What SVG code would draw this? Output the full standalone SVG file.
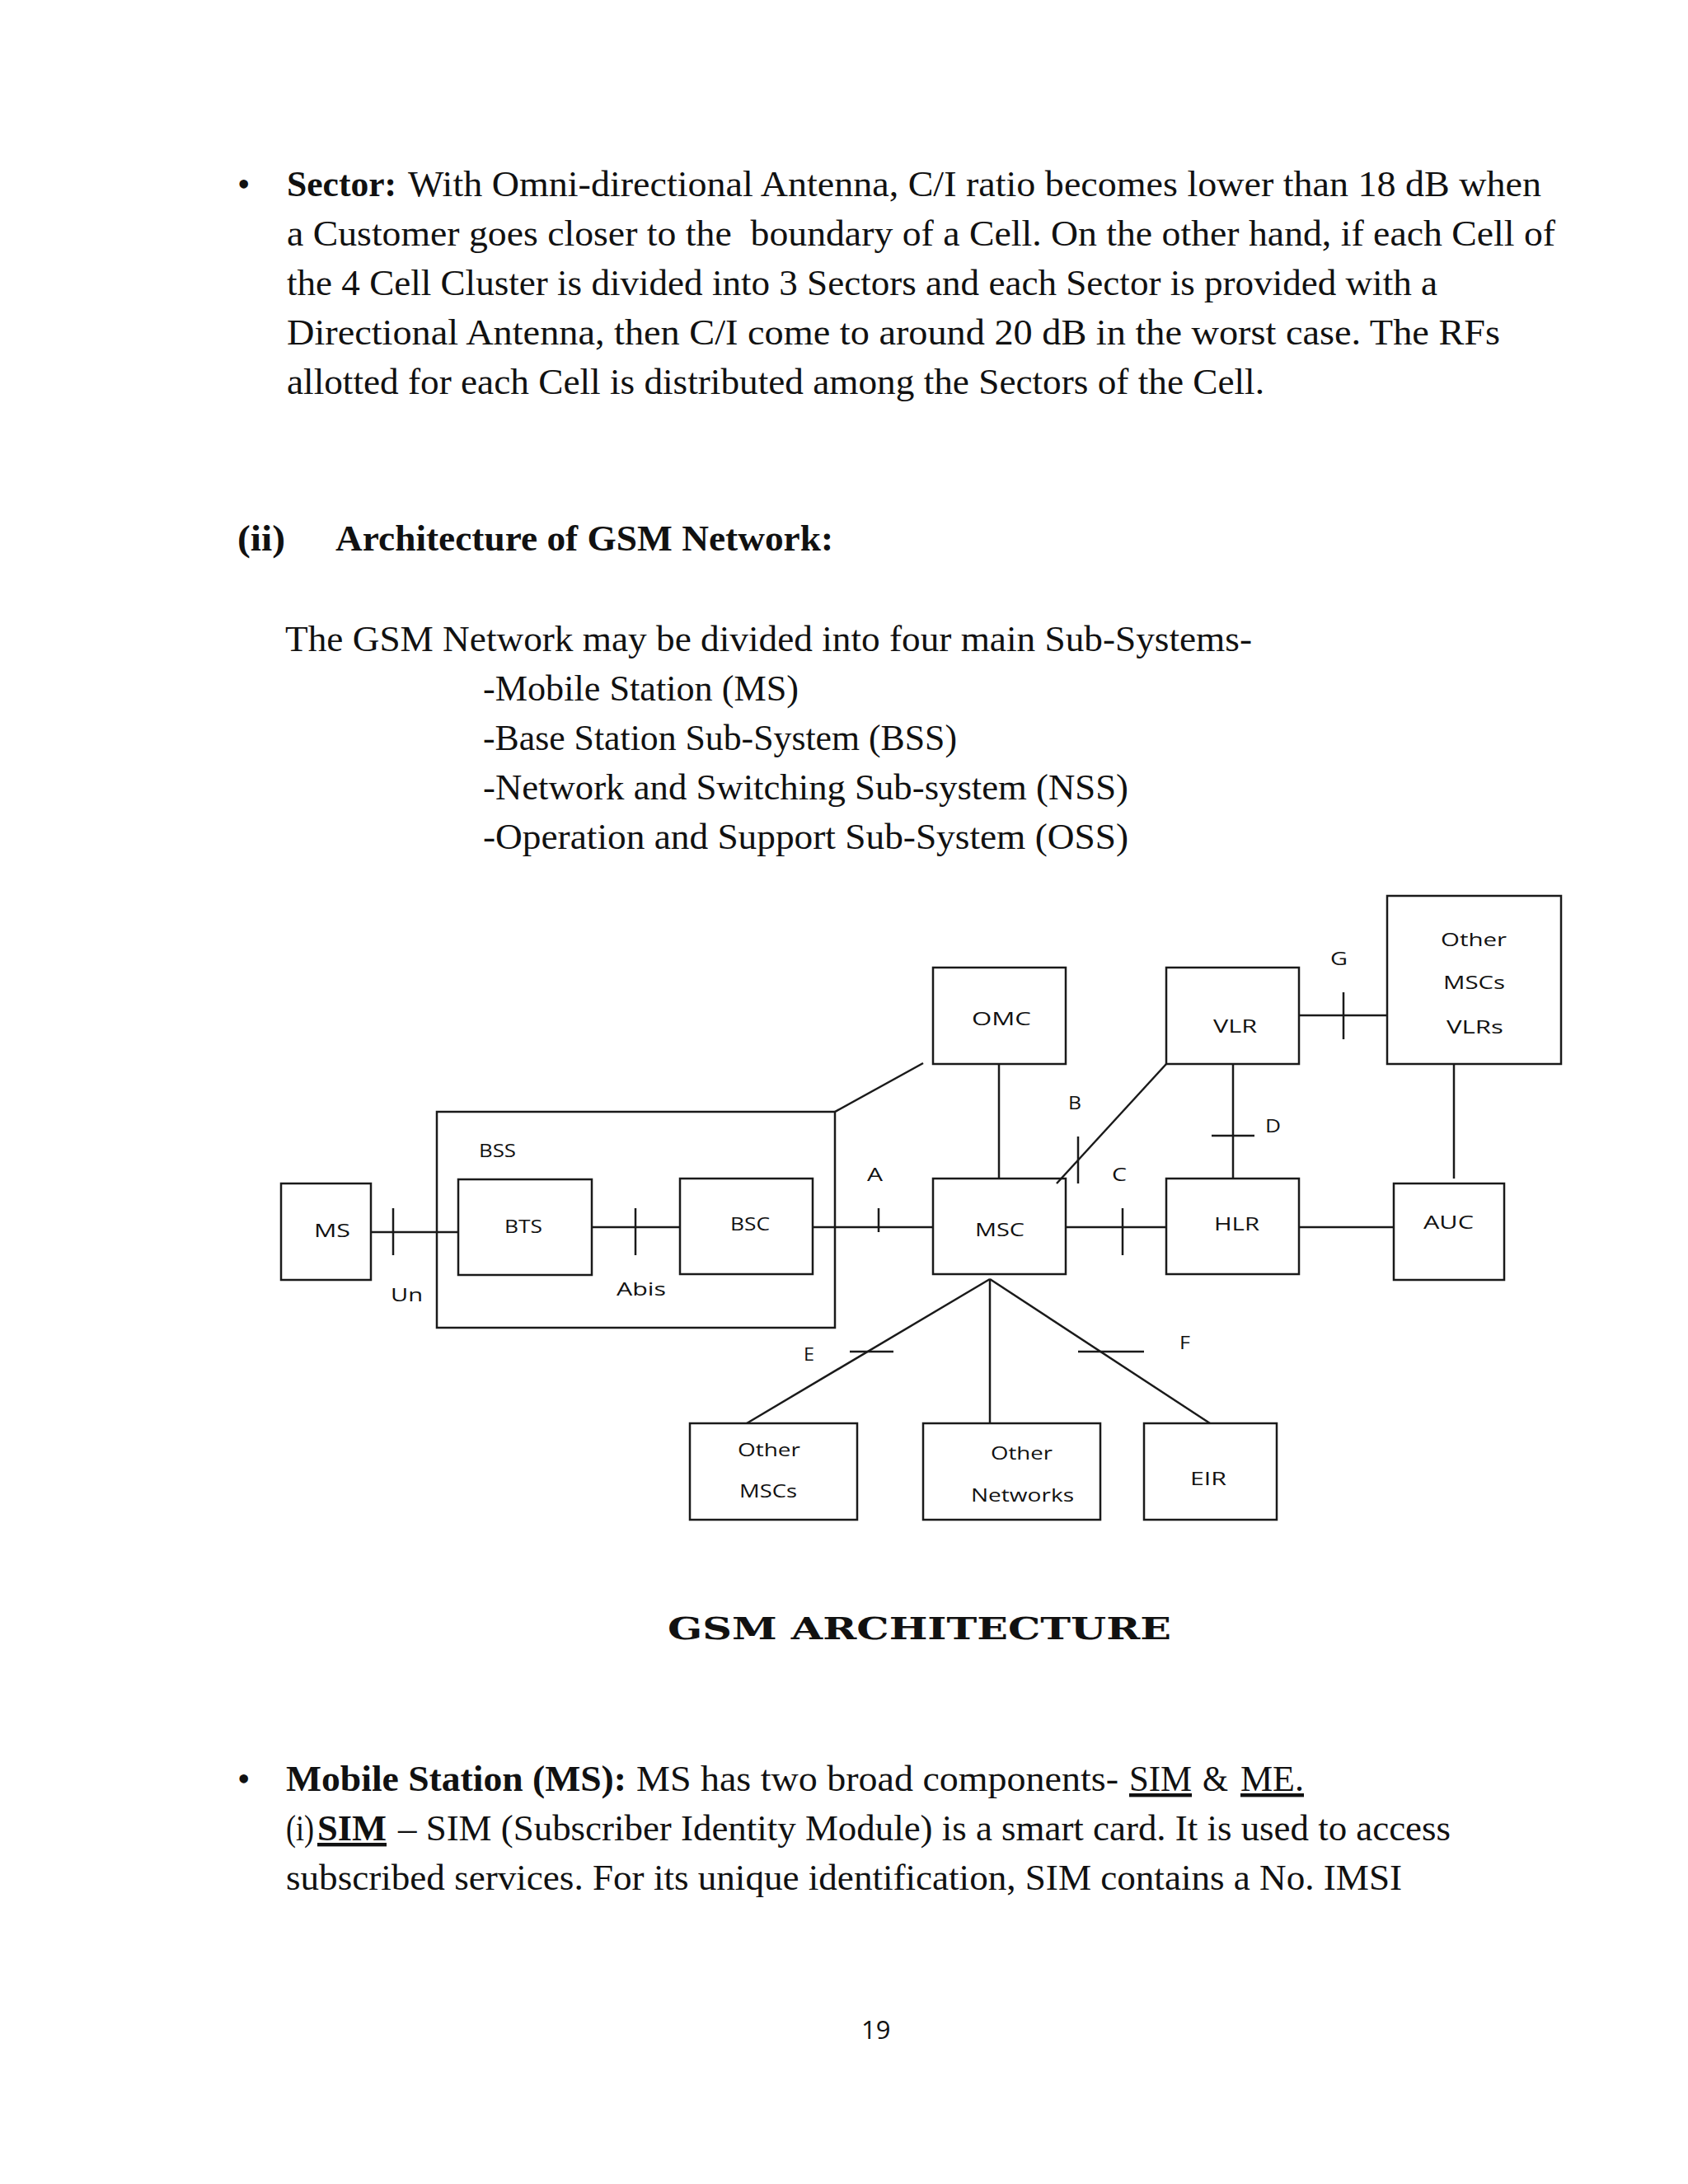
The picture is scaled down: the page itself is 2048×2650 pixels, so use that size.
<svg xmlns="http://www.w3.org/2000/svg" width="2048" height="2650" viewBox="0 0 2048 2650">
<style>
.body{font-family:"Liberation Serif","Times New Roman",serif;font-size:44px;fill:#111}
.b{font-weight:bold}
.u{text-decoration:underline}
.lbl{font-family:"Open Sans","DejaVu Sans",sans-serif;font-size:22px;fill:#111}
.box{fill:none;stroke:#1a1a1a;stroke-width:2.5}
.ln{stroke:#1a1a1a;stroke-width:2.5;fill:none}
.title{font-family:"DejaVu Serif","Liberation Serif",serif;font-weight:bold;font-size:38px;fill:#111}
.pg{font-family:"Open Sans","Liberation Sans",sans-serif;font-size:31px;fill:#111}
</style>
<rect width="2048" height="2650" fill="#ffffff"/>

<g id="text-top">
<text class="body" x="288" y="238">•</text>
<text class="body b" x="348" y="238" textLength="133" lengthAdjust="spacingAndGlyphs">Sector:</text>
<text class="body" x="495" y="238" textLength="1375" lengthAdjust="spacingAndGlyphs">With Omni-directional Antenna, C/I ratio becomes lower than 18 dB when</text>
<text class="body" x="348" y="298" textLength="1539" lengthAdjust="spacingAndGlyphs" style="white-space:pre">a Customer goes closer to the  boundary of a Cell. On the other hand, if each Cell of</text>
<text class="body" x="348" y="358" textLength="1396" lengthAdjust="spacingAndGlyphs">the 4 Cell Cluster is divided into 3 Sectors and each Sector is provided with a</text>
<text class="body" x="348" y="418" textLength="1472" lengthAdjust="spacingAndGlyphs">Directional Antenna, then C/I come to around 20 dB in the worst case. The RFs</text>
<text class="body" x="348" y="478" textLength="1186" lengthAdjust="spacingAndGlyphs">allotted for each Cell is distributed among the Sectors of the Cell.</text>

<text class="body b" x="288" y="668" textLength="58" lengthAdjust="spacingAndGlyphs">(ii)</text>
<text class="body b" x="407" y="668" textLength="604" lengthAdjust="spacingAndGlyphs">Architecture of GSM Network:</text>

<text class="body" x="346" y="790" textLength="1173" lengthAdjust="spacingAndGlyphs">The GSM Network may be divided into four main Sub-Systems-</text>
<text class="body" x="586" y="850" textLength="383" lengthAdjust="spacingAndGlyphs">-Mobile Station (MS)</text>
<text class="body" x="586" y="910" textLength="575" lengthAdjust="spacingAndGlyphs">-Base Station Sub-System (BSS)</text>
<text class="body" x="586" y="970" textLength="783" lengthAdjust="spacingAndGlyphs">-Network and Switching Sub-system (NSS)</text>
<text class="body" x="586" y="1030" textLength="783" lengthAdjust="spacingAndGlyphs">-Operation and Support Sub-System (OSS)</text>
</g>

<g id="connectors">
<line class="ln" x1="450" y1="1495" x2="556" y2="1495"/>
<line class="ln" x1="477" y1="1466" x2="477" y2="1523"/>
<line class="ln" x1="718" y1="1489" x2="825" y2="1489"/>
<line class="ln" x1="771" y1="1466" x2="771" y2="1523"/>
<line class="ln" x1="986" y1="1489" x2="1132" y2="1489"/>
<line class="ln" x1="1066" y1="1466" x2="1066" y2="1495"/>
<line class="ln" x1="1013" y1="1349" x2="1120" y2="1290"/>
<line class="ln" x1="1212" y1="1291" x2="1212" y2="1430"/>
<line class="ln" x1="1415" y1="1291" x2="1282" y2="1436"/>
<line class="ln" x1="1308" y1="1379" x2="1308" y2="1436"/>
<line class="ln" x1="1293" y1="1489" x2="1415" y2="1489"/>
<line class="ln" x1="1362" y1="1466" x2="1362" y2="1523"/>
<line class="ln" x1="1496" y1="1291" x2="1496" y2="1430"/>
<line class="ln" x1="1470" y1="1378" x2="1522" y2="1378"/>
<line class="ln" x1="1576" y1="1232" x2="1683" y2="1232"/>
<line class="ln" x1="1630" y1="1204" x2="1630" y2="1261"/>
<line class="ln" x1="1764" y1="1291" x2="1764" y2="1430"/>
<line class="ln" x1="1576" y1="1489" x2="1691" y2="1489"/>
<line class="ln" x1="1201" y1="1552" x2="906" y2="1727"/>
<line class="ln" x1="1201" y1="1552" x2="1201" y2="1727"/>
<line class="ln" x1="1201" y1="1552" x2="1468" y2="1727"/>
<line class="ln" x1="1031" y1="1640" x2="1084" y2="1640"/>
<line class="ln" x1="1308" y1="1640" x2="1388" y2="1640"/>
<text class="lbl" x="474" y="1579" textLength="39" lengthAdjust="spacingAndGlyphs">Un</text>
<text class="lbl" x="748" y="1572" textLength="60" lengthAdjust="spacingAndGlyphs">Abis</text>
<text class="lbl" x="1052" y="1433" textLength="19" lengthAdjust="spacingAndGlyphs">A</text>
<text class="lbl" x="1296" y="1346" textLength="16" lengthAdjust="spacingAndGlyphs">B</text>
<text class="lbl" x="1349" y="1433" textLength="18" lengthAdjust="spacingAndGlyphs">C</text>
<text class="lbl" x="1535" y="1374" textLength="19" lengthAdjust="spacingAndGlyphs">D</text>
<text class="lbl" x="1614" y="1171" textLength="21" lengthAdjust="spacingAndGlyphs">G</text>
<text class="lbl" x="975" y="1651" textLength="13" lengthAdjust="spacingAndGlyphs">E</text>
<text class="lbl" x="1431" y="1637" textLength="13" lengthAdjust="spacingAndGlyphs">F</text>
</g>

<g id="node-bss">
<rect class="box" x="530" y="1349" width="483" height="262"/>
<text class="lbl" x="581" y="1404" textLength="45" lengthAdjust="spacingAndGlyphs">BSS</text>
</g>
<g id="node-ms">
<rect class="box" x="341" y="1436" width="109" height="117"/>
<text class="lbl" x="381" y="1501" textLength="44" lengthAdjust="spacingAndGlyphs">MS</text>
</g>
<g id="node-bts">
<rect class="box" x="556" y="1431" width="162" height="116"/>
<text class="lbl" x="612" y="1496" textLength="46" lengthAdjust="spacingAndGlyphs">BTS</text>
</g>
<g id="node-bsc">
<rect class="box" x="825" y="1430" width="161" height="116"/>
<text class="lbl" x="886" y="1493" textLength="48" lengthAdjust="spacingAndGlyphs">BSC</text>
</g>
<g id="node-omc">
<rect class="box" x="1132" y="1174" width="161" height="117"/>
<text class="lbl" x="1179" y="1244" textLength="72" lengthAdjust="spacingAndGlyphs">OMC</text>
</g>
<g id="node-msc">
<rect class="box" x="1132" y="1430" width="161" height="116"/>
<text class="lbl" x="1183" y="1500" textLength="60" lengthAdjust="spacingAndGlyphs">MSC</text>
</g>
<g id="node-vlr">
<rect class="box" x="1415" y="1174" width="161" height="117"/>
<text class="lbl" x="1472" y="1253" textLength="53" lengthAdjust="spacingAndGlyphs">VLR</text>
</g>
<g id="node-hlr">
<rect class="box" x="1415" y="1430" width="161" height="116"/>
<text class="lbl" x="1473" y="1493" textLength="55" lengthAdjust="spacingAndGlyphs">HLR</text>
</g>
<g id="node-other-mscs-vlrs">
<rect class="box" x="1683" y="1087" width="211" height="204"/>
<text class="lbl" x="1748" y="1148" textLength="80" lengthAdjust="spacingAndGlyphs">Other</text>
<text class="lbl" x="1751" y="1200" textLength="75" lengthAdjust="spacingAndGlyphs">MSCs</text>
<text class="lbl" x="1755" y="1254" textLength="69" lengthAdjust="spacingAndGlyphs">VLRs</text>
</g>
<g id="node-auc">
<rect class="box" x="1691" y="1436" width="134" height="117"/>
<text class="lbl" x="1727" y="1491" textLength="61" lengthAdjust="spacingAndGlyphs">AUC</text>
</g>
<g id="node-other-mscs">
<rect class="box" x="837" y="1727" width="203" height="117"/>
<text class="lbl" x="895" y="1767" textLength="76" lengthAdjust="spacingAndGlyphs">Other</text>
<text class="lbl" x="897" y="1817" textLength="70" lengthAdjust="spacingAndGlyphs">MSCs</text>
</g>
<g id="node-other-networks">
<rect class="box" x="1120" y="1727" width="215" height="117"/>
<text class="lbl" x="1202" y="1771" textLength="75" lengthAdjust="spacingAndGlyphs">Other</text>
<text class="lbl" x="1178" y="1822" textLength="125" lengthAdjust="spacingAndGlyphs">Networks</text>
</g>
<g id="node-eir">
<rect class="box" x="1388" y="1727" width="161" height="117"/>
<text class="lbl" x="1444" y="1802" textLength="44" lengthAdjust="spacingAndGlyphs">EIR</text>
</g>

<text class="title" x="810" y="1989" textLength="611" lengthAdjust="spacingAndGlyphs">GSM ARCHITECTURE</text>

<g id="text-bottom">
<text class="body" x="288" y="2173">•</text>
<text class="body b" x="347" y="2173" textLength="413" lengthAdjust="spacingAndGlyphs">Mobile Station (MS):</text>
<text class="body" x="772" y="2173" textLength="585" lengthAdjust="spacingAndGlyphs">MS has two broad components-</text>
<text class="body u" x="1370" y="2173" textLength="76" lengthAdjust="spacingAndGlyphs">SIM</text>
<text class="body" x="1459" y="2173" textLength="31" lengthAdjust="spacingAndGlyphs">&amp;</text>
<text class="body u" x="1505" y="2173" textLength="77" lengthAdjust="spacingAndGlyphs">ME.</text>
<text class="body" x="347" y="2233" textLength="34" lengthAdjust="spacingAndGlyphs">(i)</text>
<text class="body b u" x="385" y="2233" textLength="84" lengthAdjust="spacingAndGlyphs">SIM</text>
<text class="body" x="483" y="2233" textLength="1277" lengthAdjust="spacingAndGlyphs">– SIM (Subscriber Identity Module) is a smart card. It is used to access</text>
<text class="body" x="347" y="2293" textLength="1354" lengthAdjust="spacingAndGlyphs">subscribed services. For its unique identification, SIM contains a No. IMSI</text>
<text class="pg" x="1045" y="2474">19</text>
</g>
</svg>
